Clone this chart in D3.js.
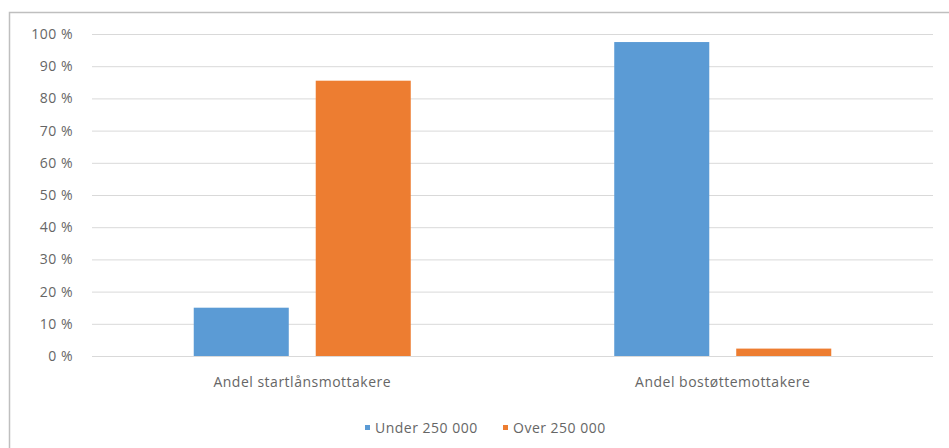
<!DOCTYPE html>
<html><head><meta charset="utf-8">
<script src="https://cdn.jsdelivr.net/npm/d3@7"></script>
<style>body{margin:0;background:#fff;}svg{display:block;font-family:"Open Sans","Liberation Sans",sans-serif;}</style>
</head><body>
<script>
const categories = ["Andel startlånsmottakere", "Andel bostøttemottakere"];
const seriesNames = ["Under 250 000", "Over 250 000"];
const under250 = [15, 97.5];
const over250 = [85.5, 2.3];
const yTicks = [0,10,20,30,40,50,60,70,80,90,100];
const colors = ["#5b9bd5", "#ed7d31"];

const W = 949, H = 448;
const FS = 14, LS = "0.5px", TXT = "#666666";
const svg = d3.select("body").append("svg").attr("width", W).attr("height", H);
svg.append("rect").attr("x", 9.5).attr("y", 12.5).attr("width", W).attr("height", H)
  .attr("fill", "#fff").attr("stroke", "#bfbfbf").attr("stroke-width", 1.5);

const m = {left: 92, right: 16, top: 34, bottom: 92};
const x0 = d3.scaleBand().domain(categories).range([m.left, W - m.right]).paddingInner(0).paddingOuter(0);
const x1 = d3.scaleBand().domain(seriesNames).range([0, x0.bandwidth()]).paddingInner(0.221).paddingOuter(0.834);
const y = d3.scaleLinear().domain([0, 100]).range([H - m.bottom, m.top]);

const yAxis = d3.axisLeft(y).tickValues(yTicks).tickSize(-(W - m.left - m.right)).tickPadding(19)
  .tickFormat(d => d + " %");
const gy = svg.append("g").attr("transform", `translate(${m.left},0)`).call(yAxis);
gy.select(".domain").remove();
gy.selectAll("line").attr("stroke", "#d9d9d9").attr("stroke-width", 1);
gy.selectAll("text").attr("fill", TXT).attr("font-size", FS).style("letter-spacing", LS)
  .attr("font-family", "Open Sans, Liberation Sans, sans-serif");

const data = categories.map((c, i) => ({cat: c, vals: [under250[i], over250[i]]}));
const g = svg.append("g");
data.forEach(d => {
  d.vals.forEach((v, j) => {
    g.append("rect")
      .attr("x", x0(d.cat) + x1(seriesNames[j]))
      .attr("y", y(v))
      .attr("width", x1.bandwidth())
      .attr("height", y(0) - y(v))
      .attr("fill", colors[j]);
  });
});

const xAxis = d3.axisBottom(x0).tickSize(0).tickPadding(21);
const gx = svg.append("g").attr("transform", `translate(0,${y(0)})`).call(xAxis);
gx.select(".domain").remove();
gx.selectAll("text").attr("fill", TXT).attr("font-size", FS).style("letter-spacing", LS)
  .attr("font-family", "Open Sans, Liberation Sans, sans-serif");

const legend = svg.append("g");
const lx = [365, 503];
seriesNames.forEach((s, j) => {
  legend.append("rect").attr("x", lx[j]).attr("y", 425).attr("width", 5).attr("height", 5).attr("fill", colors[j]);
  legend.append("text").attr("x", lx[j] + 10).attr("y", 433).attr("fill", TXT).attr("font-size", FS)
    .style("letter-spacing", LS).text(s);
});
</script>
</body></html>
